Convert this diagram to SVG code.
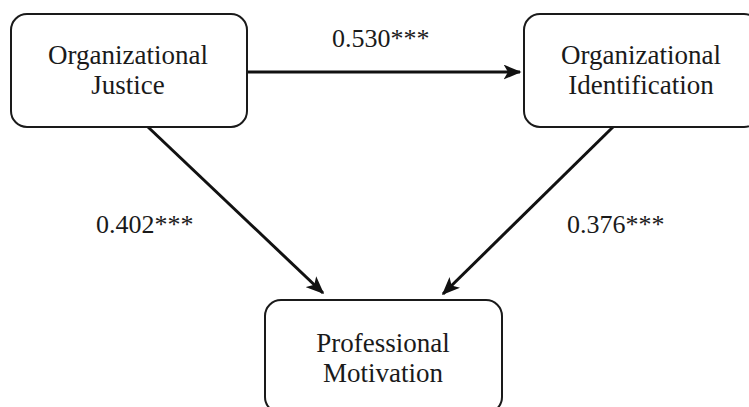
<svg xmlns="http://www.w3.org/2000/svg" width="749" height="407" viewBox="0 0 749 407">
<style>
.box{fill:#ffffff;stroke:#1a1a1a;stroke-width:2}
.lbl{font-family:"Liberation Serif","Times New Roman",serif;font-size:27px;fill:#1a1a1a;text-anchor:middle}
.num{font-family:"Liberation Serif","Times New Roman",serif;font-size:26px;fill:#1a1a1a}
.edge{stroke:#111111;stroke-width:3;fill:none}
</style>
<defs>
<marker id="ah" viewBox="0 0 12 10" refX="11" refY="5" markerWidth="6" markerHeight="5" orient="auto" markerUnits="strokeWidth">
<path d="M0,0 L12,5 L0,10 L3,5 z" fill="#111111"/>
</marker>
</defs>
<rect width="749" height="407" fill="#ffffff"/>
<g id="connectors">
<line class="edge" x1="247" y1="72" x2="520" y2="72" marker-end="url(#ah)"/>
<line class="edge" x1="148" y1="127" x2="323" y2="293" marker-end="url(#ah)"/>
<line class="edge" x1="613" y1="127" x2="443" y2="294" marker-end="url(#ah)"/>
</g>
<g id="labels">
<text class="num" x="332" y="47">0.530***</text>
<text class="num" x="96" y="233">0.402***</text>
<text class="num" x="567" y="233">0.376***</text>
</g>
<g id="node-justice">
<rect class="box" x="11" y="14" width="236" height="113" rx="16"/>
<text class="lbl" x="128" y="64">Organizational</text>
<text class="lbl" x="128" y="94">Justice</text>
</g>
<g id="node-identification">
<rect class="box" x="524" y="14" width="236" height="113" rx="16"/>
<text class="lbl" x="641" y="64">Organizational</text>
<text class="lbl" x="641" y="94">Identification</text>
</g>
<g id="node-motivation">
<rect class="box" x="265" y="300" width="237" height="113" rx="16"/>
<text class="lbl" x="383" y="352">Professional</text>
<text class="lbl" x="383" y="382">Motivation</text>
</g>
</svg>
